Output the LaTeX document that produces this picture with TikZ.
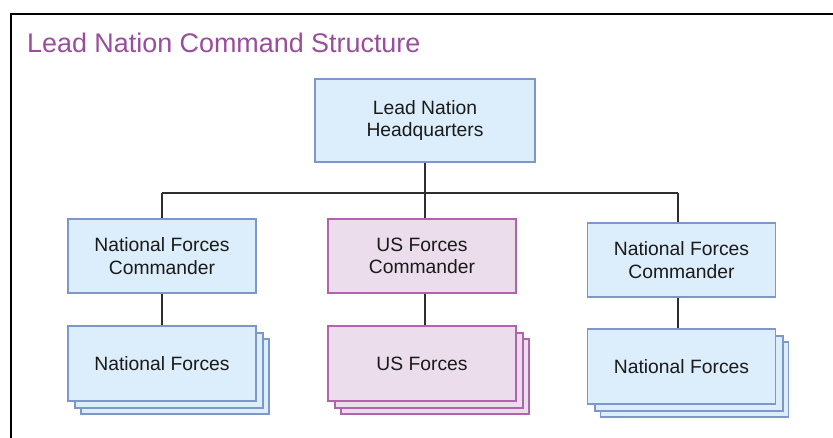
\documentclass[tikz,border=0pt]{standalone}
\usepackage{fontspec}
\setmainfont{Liberation Sans}
\definecolor{titlepurple}{HTML}{9A4C9E}
\definecolor{bluefill}{HTML}{DCEEFB}
\definecolor{blueline}{HTML}{7D98C8}
\definecolor{purplefill}{HTML}{EBDDEC}
\definecolor{purpleline}{HTML}{B263AE}
\definecolor{textdark}{HTML}{1A1A1A}
\definecolor{connline}{HTML}{2E2E2E}
\tikzset{
  boxbase/.style={rectangle, draw, line width=1.3pt, align=center, text=textdark,
    font=\fontsize{19.3}{22.5}\selectfont, inner sep=0pt},
  bluebox/.style={boxbase, fill=bluefill, draw=blueline},
  purplebox/.style={boxbase, fill=purplefill, draw=purpleline},
  cmdsize/.style={minimum width=188pt, minimum height=74pt},
  frcsize/.style={minimum width=188pt, minimum height=75pt},
  conn/.style={draw=connline, line width=2pt},
}
\begin{document}
\begin{tikzpicture}[x=1pt,y=-1pt]
\useasboundingbox (0,0) rectangle (833,437);
\clip (0,0) rectangle (833,437);
\fill[white] (0,0) rectangle (833,437);
\draw[line width=2.2pt, black] (11,450) -- (11,14) -- (850,14);
\node[anchor=base west, text=titlepurple, font=\fontsize{26.9}{30}\selectfont, inner sep=0pt] (title) at (27,52) {Lead Nation Command Structure};

% top
\node[bluebox, minimum width=220pt, minimum height=83pt] (top) at (425,120.5) {Lead Nation\\Headquarters};

% commanders
\node[bluebox, cmdsize] (lc) at (162,256) {National Forces\\Commander};
\node[purplebox, cmdsize] (mc) at (422,256) {US Forces\\Commander};
\node[bluebox, cmdsize] (rc) at (681.5,260) {National Forces\\Commander};

% forces stacks (back layers first)
\node[bluebox, frcsize] (lf3) at (175,376.5) {};
\node[bluebox, frcsize] (lf2) at (169,370.5) {};
\node[bluebox, frcsize] (lf) at (162,363.5) {National Forces};

\node[purplebox, frcsize] (mf3) at (435,376.5) {};
\node[purplebox, frcsize] (mf2) at (429,370.5) {};
\node[purplebox, frcsize] (mf) at (422,363.5) {US Forces};

\node[bluebox, frcsize] (rf3) at (694.5,379.5) {};
\node[bluebox, frcsize] (rf2) at (689,373.5) {};
\node[bluebox, frcsize] (rf) at (681.5,366.5) {National Forces};

% connectors
\coordinate (busL) at (162,193);
\coordinate (busR) at (678,193);
\draw[conn] (top.south) -- (top.south |- busL);
\draw[conn] (busL) -- (busR);
\draw[conn] (busL) -- (lc.north);
\draw[conn] (top.south |- busL) -- (top.south |- mc.north);
\draw[conn] (busR) -- (busR |- rc.north);
\draw[conn] (lc.south) -- (lf.north);
\draw[conn] (top.south |- mc.south) -- (top.south |- mf.north);
\draw[conn] (busR |- rc.south) -- (busR |- rf.north);
\end{tikzpicture}
\end{document}
